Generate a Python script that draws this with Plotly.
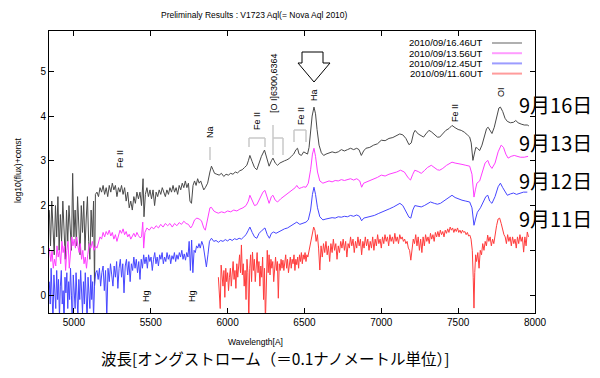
import plotly.graph_objects as go

# ---------------- data (wavelength [A], log10(flux)+const) ----------------
spec_16 = [(4840,1.9),(4848,1.1),(4856,2.1),(4864,1.4),(4872,0.9),(4880,2.0),(4888,1.3),(4896,2.2),
(4904,1.0),(4912,1.8),(4920,1.2),(4928,2.1),(4936,1.5),(4944,0.8),(4952,1.9),(4960,1.2),(4968,2.0),
(4976,1.4),(4984,1.0),(4992,2.72),(5000,1.3),(5008,1.9),(5016,1.1),(5024,2.2),(5032,1.5),(5040,0.9),
(5048,2.0),(5056,1.4),(5064,2.1),(5072,1.0),(5080,1.7),(5088,2.2),(5096,1.2),(5104,0.8),(5112,1.9),
(5120,1.3),(5128,2.1),(5134,0.2),(5140,2.25),(5150,2.3),(5160,2.2),(5170,2.4),(5180,2.3),(5190,2.45),
(5200,2.25),(5210,2.4),(5220,2.2),(5230,2.45),(5240,2.3),(5250,2.5),(5260,2.35),(5270,2.45),(5280,2.2),
(5290,2.4),(5300,2.3),(5310,2.45),(5320,2.25),(5330,2.4),(5340,2.1),(5350,2.3),(5360,1.95),(5370,2.1),
(5380,1.9),(5390,2.2),(5400,2.05),(5410,2.3),(5420,2.15),(5430,2.3),(5440,2.0),(5450,2.6),(5456,1.75),
(5465,2.25),(5475,2.4),(5485,2.2),(5495,2.35),(5505,2.15),(5515,2.35),(5525,2.0),(5535,2.3),(5545,2.2),
(5555,2.35),(5565,2.25),(5575,2.4),(5585,2.3),(5595,2.2),(5605,2.35),(5615,2.25),(5625,2.4),(5635,2.3),
(5645,2.45),(5655,2.3),(5665,2.4),(5675,2.25),(5685,2.45),(5695,2.35),(5705,2.5),(5715,2.4),(5725,2.55),
(5735,2.4),(5745,2.5),(5755,2.1),(5765,2.05),(5775,2.45),(5785,2.55),(5795,2.45),(5805,2.6),(5815,2.5),
(5825,2.55),(5835,2.45),(5845,2.35),(5855,2.4),(5870,2.5),(5885,2.75),(5895,2.88),(5905,2.8),(5915,2.72),
(5930,2.7),(5945,2.68),(5960,2.72),(5975,2.65),(5990,2.7),(6005,2.68),(6020,2.72),(6035,2.7),(6050,2.75),
(6065,2.73),(6080,2.78),(6095,2.8),(6110,2.85),(6125,2.9),(6135,3.0),(6145,3.12),(6160,2.98),(6175,2.85),
(6190,2.8),(6205,2.95),(6220,3.1),(6240,3.24),(6255,3.05),(6270,2.88),(6285,3.0),(6295,3.06),(6310,2.95),
(6325,2.9),(6340,2.95),(6355,2.98),(6370,3.0),(6385,3.02),(6400,3.05),(6415,3.1),(6430,3.15),(6445,3.25),
(6455,3.28),(6465,3.15),(6480,3.12),(6495,3.2),(6510,3.18),(6520,3.15),(6530,3.3),(6540,3.6),(6550,4.0),
(6562,4.2),(6572,4.05),(6582,3.7),(6595,3.35),(6610,3.18),(6625,3.12),(6640,3.15),(6660,3.18),(6680,3.2),
(6700,3.18),(6720,3.2),(6740,3.25),(6760,3.22),(6780,3.25),(6800,3.28),(6820,3.25),(6840,3.28),(6855,3.25),
(6870,3.12),(6885,3.22),(6900,3.28),(6925,3.3),(6950,3.35),(6975,3.38),(7000,3.46),(7025,3.45),(7050,3.5),
(7075,3.52),(7100,3.56),(7120,3.6),(7140,3.58),(7160,3.5),(7180,3.36),(7195,3.4),(7210,3.62),(7220,3.68),
(7240,3.6),(7260,3.55),(7275,3.53),(7290,3.6),(7310,3.68),(7325,3.65),(7345,3.58),(7365,3.53),(7380,3.53),
(7400,3.6),(7420,3.68),(7440,3.72),(7460,3.79),(7480,3.74),(7500,3.7),(7520,3.68),(7540,3.64),(7560,3.58),
(7575,3.53),(7585,3.4),(7596,3.01),(7605,3.15),(7615,3.3),(7625,3.28),(7640,3.23),(7655,3.35),(7670,3.55),
(7685,3.72),(7695,3.75),(7710,3.65),(7720,3.61),(7735,3.75),(7750,4.0),(7765,4.18),(7775,4.2),(7790,4.1),
(7805,3.95),(7820,3.88),(7840,3.85),(7860,3.86),(7875,3.9),(7890,3.85),(7910,3.82),(7930,3.8),(7950,3.8),
(7960,3.78)]

spec_13 = [(4840,1.05),(4850,0.75),(4858,1.0),(4866,0.6),(4874,0.8),(4882,0.65),(4890,1.1),(4898,0.85),
(4906,1.0),(4914,0.7),(4922,1.2),(4930,0.95),(4938,1.1),(4946,0.55),(4954,1.0),(4962,1.2),(4970,0.6),
(4978,1.05),(4986,1.3),(4994,1.1),(5002,1.25),(5010,1.05),(5018,1.3),(5026,1.1),(5034,0.95),(5042,1.15),
(5050,0.8),(5058,1.0),(5066,0.7),(5074,0.85),(5082,0.6),(5090,0.9),(5100,1.15),(5110,1.05),(5120,1.2),
(5130,1.0),(5140,1.1),(5150,1.05),(5160,1.15),(5170,1.3),(5180,1.25),(5190,1.4),(5200,1.3),(5210,1.42),
(5220,1.35),(5230,1.45),(5240,1.32),(5250,1.4),(5260,1.25),(5270,1.35),(5280,1.2),(5290,1.3),(5300,1.45),
(5310,1.38),(5320,1.48),(5330,1.35),(5340,1.42),(5350,1.3),(5360,1.36),(5370,1.25),(5380,1.32),(5390,1.38),
(5400,1.3),(5410,1.4),(5420,1.33),(5430,1.28),(5440,1.3),(5448,1.63),(5454,1.05),(5462,1.4),(5475,1.5),
(5490,1.45),(5505,1.52),(5520,1.48),(5535,1.55),(5550,1.5),(5565,1.58),(5580,1.52),(5595,1.6),(5610,1.55),
(5625,1.6),(5640,1.52),(5655,1.6),(5670,1.55),(5685,1.62),(5700,1.58),(5715,1.65),(5730,1.6),(5745,1.58),
(5760,1.5),(5770,1.55),(5785,1.68),(5800,1.72),(5815,1.7),(5830,1.66),(5845,1.5),(5855,1.45),(5870,1.7),
(5885,1.95),(5895,1.96),(5910,1.88),(5925,1.85),(5940,1.83),(5960,1.86),(5980,1.84),(6000,1.88),(6020,1.86),
(6040,1.9),(6060,1.88),(6080,1.92),(6100,1.95),(6120,2.0),(6135,2.1),(6145,2.23),(6160,2.1),(6175,2.0),
(6190,2.02),(6210,2.15),(6230,2.3),(6243,2.34),(6258,2.15),(6270,2.05),(6285,2.2),(6295,2.23),(6310,2.12),
(6325,2.08),(6345,2.15),(6365,2.2),(6385,2.25),(6405,2.3),(6425,2.35),(6440,2.4),(6450,2.45),(6465,2.38),
(6480,2.4),(6495,2.42),(6510,2.41),(6525,2.5),(6540,2.8),(6552,3.15),(6562,3.28),(6572,3.1),(6585,2.75),
(6600,2.55),(6620,2.5),(6640,2.52),(6660,2.55),(6680,2.53),(6700,2.56),(6720,2.55),(6740,2.58),(6760,2.56),
(6780,2.58),(6800,2.6),(6820,2.57),(6840,2.6),(6860,2.55),(6872,2.41),(6885,2.5),(6900,2.52),(6925,2.55),
(6950,2.6),(6975,2.63),(7000,2.68),(7025,2.66),(7050,2.7),(7075,2.72),(7100,2.75),(7125,2.79),(7150,2.75),
(7175,2.62),(7190,2.57),(7205,2.7),(7218,2.79),(7240,2.76),(7260,2.72),(7280,2.78),(7300,2.85),(7325,2.9),
(7345,2.85),(7365,2.8),(7380,2.79),(7400,2.83),(7425,2.9),(7445,2.95),(7460,2.97),(7480,2.95),(7500,2.93),
(7525,2.92),(7550,2.9),(7575,2.88),(7590,2.7),(7603,2.19),(7612,2.35),(7622,2.5),(7640,2.55),(7660,2.75),
(7675,2.95),(7693,3.01),(7705,2.9),(7720,2.83),(7740,2.95),(7760,3.2),(7780,3.35),(7795,3.3),(7810,3.15),
(7825,3.06),(7845,3.1),(7865,3.12),(7885,3.1),(7905,3.08),(7930,3.08),(7955,3.1)]

spec_12 = [(4840,0.3),(4846,-0.2),(4852,0.6),(4858,0.0),(4864,-0.6),(4870,0.45),(4876,0.1),(4882,-0.3),
(4888,0.55),(4894,-0.1),(4900,0.35),(4906,-0.5),(4912,0.2),(4918,0.55),(4924,-0.2),(4930,0.1),(4936,-0.7),
(4942,0.4),(4948,0.05),(4954,0.5),(4960,-0.3),(4966,0.3),(4972,-0.1),(4978,0.6),(4984,0.0),(4990,-0.8),
(4996,0.45),(5002,0.15),(5008,-0.3),(5014,0.5),(5020,0.05),(5026,-0.5),(5032,0.35),(5038,-0.1),(5044,0.55),
(5050,0.1),(5056,-0.4),(5062,0.3),(5068,-0.2),(5074,0.5),(5080,0.0),(5086,-0.6),(5092,0.4),(5098,0.1),
(5104,-0.3),(5110,0.45),(5116,-0.1),(5122,0.3),(5128,-0.5),(5134,0.2),(5142,0.5),(5150,0.55),(5158,0.35),
(5166,0.6),(5174,0.2),(5182,0.5),(5190,0.65),(5198,0.1),(5206,0.55),(5214,-0.5),(5222,0.6),(5230,0.3),
(5238,0.7),(5246,0.45),(5254,0.2),(5262,0.65),(5270,0.4),(5278,0.75),(5286,0.15),(5294,0.6),(5302,0.8),
(5310,0.4),(5318,0.7),(5326,0.05),(5334,0.65),(5342,0.8),(5350,0.45),(5358,0.75),(5366,0.3),(5374,0.7),
(5382,0.55),(5390,0.85),(5398,0.6),(5406,0.8),(5414,0.5),(5422,0.75),(5430,0.35),(5438,0.8),(5446,0.6),
(5454,0.9),(5462,0.7),(5470,0.85),(5478,0.6),(5486,0.9),(5494,0.75),(5502,0.85),(5510,0.55),(5518,0.8),
(5526,0.95),(5534,0.7),(5542,0.85),(5550,0.65),(5558,0.9),(5566,0.8),(5574,0.95),(5582,0.7),(5590,0.85),
(5598,0.75),(5606,0.95),(5614,0.8),(5622,0.9),(5630,0.7),(5638,0.88),(5646,0.8),(5654,0.95),(5662,0.75),
(5670,0.9),(5678,0.8),(5686,0.95),(5694,0.85),(5702,1.0),(5710,0.8),(5718,0.92),(5726,0.78),(5734,0.95),
(5742,0.85),(5750,1.2),(5758,0.55),(5766,1.23),(5774,0.5),(5782,1.0),(5790,0.95),(5798,1.1),(5806,1.05),
(5814,1.15),(5822,1.05),(5832,1.2),(5842,1.1),(5852,0.9),(5862,0.63),(5872,0.9),(5882,1.2),(5895,1.27),
(5910,1.2),(5925,1.22),(5940,1.18),(5955,1.22),(5970,1.2),(5985,1.24),(6000,1.21),(6015,1.25),(6030,1.22),
(6045,1.26),(6060,1.24),(6075,1.27),(6090,1.25),(6105,1.3),(6120,1.35),(6135,1.45),(6145,1.52),(6160,1.4),
(6175,1.3),(6190,1.27),(6205,1.38),(6225,1.45),(6243,1.5),(6258,1.35),(6272,1.27),(6285,1.38),(6300,1.41),
(6315,1.38),(6330,1.41),(6350,1.45),(6370,1.48),(6390,1.5),(6410,1.55),(6430,1.58),(6450,1.63),(6470,1.58),
(6490,1.6),(6510,1.63),(6525,1.68),(6540,1.9),(6552,2.25),(6562,2.41),(6572,2.25),(6585,1.95),(6600,1.75),
(6620,1.68),(6640,1.7),(6660,1.72),(6680,1.73),(6700,1.72),(6720,1.75),(6740,1.74),(6760,1.76),(6780,1.75),
(6800,1.78),(6820,1.76),(6840,1.79),(6858,1.76),(6872,1.66),(6886,1.72),(6905,1.74),(6930,1.75),(6955,1.78),
(6980,1.82),(7004,1.85),(7030,1.9),(7055,1.93),(7080,1.97),(7105,2.02),(7121,2.05),(7140,2.0),(7160,1.88),
(7180,1.74),(7192,1.72),(7205,1.9),(7218,2.0),(7240,1.98),(7260,1.97),(7280,2.0),(7300,2.05),(7320,2.08),
(7345,2.05),(7365,2.03),(7385,2.05),(7405,2.1),(7425,2.15),(7445,2.2),(7460,2.23),(7480,2.18),(7500,2.15),
(7525,2.12),(7550,2.1),(7575,2.08),(7590,1.95),(7603,1.56),(7613,1.7),(7625,1.85),(7645,1.95),(7665,2.1),
(7680,2.2),(7693,2.23),(7705,2.1),(7720,2.05),(7740,2.2),(7760,2.42),(7775,2.5),(7790,2.4),(7805,2.3),
(7820,2.23),(7840,2.26),(7860,2.28),(7880,2.25),(7900,2.28),(7925,2.3),(7950,2.3)]

spec_11 = [(5940,0.4),(5946,0.15),(5952,-0.3),(5958,0.67),(5964,0.45),(5970,0.2),(5976,0.55),(5982,-0.05),
(5988,0.6),(5994,0.3),(6000,0.5),(6006,0.1),(6012,0.4),(6018,0.6),(6024,0.2),(6030,0.45),(6036,0.75),
(6042,0.35),(6048,0.55),(6054,0.15),(6060,0.7),(6066,0.4),(6072,0.6),(6078,0.9),(6084,0.5),(6090,1.12),
(6096,0.45),(6102,0.7),(6108,0.2),(6114,0.55),(6120,-0.1),(6126,0.8),(6132,0.5),(6138,-0.6),(6144,0.6),
(6150,0.9),(6156,0.3),(6162,0.96),(6168,0.55),(6174,0.8),(6180,0.3),(6186,0.7),(6192,0.95),(6198,0.5),
(6204,0.75),(6210,0.2),(6216,0.65),(6222,0.4),(6228,0.85),(6234,-0.1),(6240,0.6),(6246,-0.6),(6252,0.75),
(6258,1.0),(6264,0.5),(6270,0.9),(6276,0.45),(6282,0.8),(6288,0.6),(6294,0.75),(6300,0.3),(6306,0.6),
(6312,0.85),(6318,0.55),(6324,0.75),(6330,-0.07),(6336,0.7),(6342,0.55),(6348,0.8),(6354,0.6),(6360,0.78),
(6366,0.55),(6372,0.7),(6378,0.9),(6384,0.6),(6390,0.8),(6396,0.5),(6402,0.75),(6408,0.85),(6414,0.6),
(6420,0.8),(6426,0.7),(6432,0.9),(6438,0.55),(6444,0.8),(6450,0.68),(6456,0.85),(6462,0.6),(6468,0.9),
(6474,0.75),(6480,0.95),(6486,0.7),(6492,0.9),(6498,0.8),(6504,0.95),(6510,0.75),(6516,0.9),(6522,0.85),
(6530,1.0),(6540,1.2),(6550,1.4),(6560,1.52),(6568,1.45),(6576,1.2),(6584,1.35),(6592,1.05),(6600,0.56),
(6608,1.1),(6616,0.85),(6624,1.15),(6632,0.95),(6640,1.2),(6648,0.9),(6656,1.1),(6664,0.75),(6672,1.15),
(6680,0.95),(6688,1.25),(6696,1.0),(6704,1.15),(6712,0.8),(6720,1.1),(6728,0.95),(6736,1.2),(6744,1.05),
(6752,1.25),(6760,1.0),(6768,1.2),(6776,0.85),(6784,1.15),(6792,1.05),(6800,1.3),(6808,1.1),(6816,1.25),
(6824,0.95),(6832,1.2),(6840,1.05),(6848,1.3),(6856,1.1),(6864,1.25),(6872,0.9),(6880,1.2),(6888,1.05),
(6896,1.3),(6904,1.1),(6912,1.25),(6920,1.0),(6928,1.2),(6936,1.05),(6944,1.3),(6952,1.0),(6960,1.25),
(6968,1.1),(6976,1.35),(6984,1.15),(6992,1.25),(7000,1.05),(7008,1.3),(7016,1.15),(7024,1.35),(7032,1.2),
(7040,1.3),(7048,1.1),(7056,1.35),(7064,1.2),(7072,1.3),(7080,1.15),(7088,1.38),(7096,1.2),(7104,1.3),
(7112,1.15),(7120,1.35),(7128,1.25),(7136,1.3),(7144,1.2),(7152,1.25),(7160,1.15),(7168,1.2),(7176,1.05),
(7184,1.0),(7192,0.78),(7200,1.05),(7208,1.25),(7216,1.15),(7224,1.35),(7232,1.1),(7240,1.3),(7248,1.0),
(7256,1.25),(7264,0.95),(7272,1.3),(7280,1.1),(7288,1.35),(7296,1.2),(7304,1.3),(7312,1.15),(7320,1.38),
(7328,1.25),(7336,1.35),(7344,1.2),(7352,1.4),(7360,1.3),(7368,1.42),(7376,1.3),(7384,1.45),(7392,1.35),
(7400,1.42),(7408,1.3),(7416,1.45),(7424,1.38),(7432,1.48),(7440,1.4),(7448,1.52),(7456,1.45),(7464,1.5),
(7472,1.4),(7480,1.48),(7488,1.42),(7496,1.5),(7504,1.4),(7512,1.45),(7520,1.38),(7528,1.45),(7536,1.4),
(7544,1.42),(7552,1.35),(7560,1.4),(7568,1.32),(7576,1.34),(7584,1.25),(7592,1.0),(7598,0.4),(7603,-0.29),
(7608,0.5),(7614,0.9),(7620,0.75),(7628,0.95),(7636,0.6),(7644,1.0),(7652,0.9),(7660,1.15),(7668,1.0),
(7676,1.2),(7684,1.1),(7692,1.34),(7700,1.2),(7708,1.3),(7716,1.1),(7724,1.25),(7732,1.15),(7740,1.35),
(7750,1.55),(7760,1.7),(7770,1.72),(7780,1.6),(7790,1.45),(7798,1.35),(7806,1.3),(7814,1.15),(7822,1.35),
(7830,1.2),(7838,1.3),(7846,1.1),(7854,1.3),(7862,1.15),(7870,1.25),(7878,1.05),(7886,1.3),(7894,1.15),
(7902,1.35),(7910,1.2),(7918,1.3),(7926,0.96),(7934,1.3),(7942,1.1),(7950,1.41),(7958,1.3)]

series_names = ["2010/09/16.46UT", "2010/09/13.56UT", "2010/09/12.45UT", "2010/09/11.60UT"]
series_data = [spec_16, spec_13, spec_12, spec_11]
day_labels = ["9月16日", "9月13日", "9月12日", "9月11日"]
x_ticks = [5000, 5500, 6000, 6500, 7000, 7500, 8000]
y_ticks = [0, 1, 2, 3, 4, 5]

# ---------------- styling ----------------
line_colors = ["#4a4a4a", "#ff3cff", "#4646ff", "#ff3c3c"]
legend_colors = ["#b0b0b0", "#ff9cff", "#9c9cff", "#ff9c9c"]
FONT = "Liberation Sans, Arial, sans-serif"
CJK = "Noto Sans CJK JP, sans-serif"

# plot area in pixels
L, R, T, B = 49, 535, 31, 313
W, H = R - L, B - T


def P(x, y):
    return (x - L) / W, (B - y) / H


fig = go.Figure()
for name, spec, col in zip(series_names, series_data, line_colors):
    fig.add_trace(go.Scatter(
        x=[p[0] for p in spec], y=[p[1] for p in spec], mode="lines", name=name,
        line=dict(color=col, width=1), showlegend=False))

ann = []
shapes = []


def text(x, y, s, size=9, angle=0, xanchor="center", font=FONT):
    px, py = P(x, y)
    ann.append(dict(x=px, y=py, xref="paper", yref="paper", text=s, showarrow=False,
                    textangle=angle, xanchor=xanchor, yanchor="middle",
                    font=dict(family=font, size=size, color="black")))


def seg(x0, y0, x1, y1, color="#c8c8c8", width=1.5):
    a, b = P(x0, y0)
    c, d = P(x1, y1)
    shapes.append(dict(type="line", xref="paper", yref="paper", x0=a, y0=b, x1=c, y1=d,
                       line=dict(color=color, width=width)))


# title
text(254, 15, "Preliminaly Results : V1723 Aql(= Nova Aql 2010)", size=8.5)
# legend (custom, text right aligned, sample on the right)
for i, (name, lc) in enumerate(zip(series_names, legend_colors)):
    yy = 43 + 10.2 * i
    text(485, yy, name, size=9.5, xanchor="right")
    seg(492, yy, 522, yy, color=lc, width=2)

# day labels on the right
for lab, yy in zip(day_labels, [104, 142, 180, 218]):
    text(517, yy, lab, size=20, xanchor="left", font=CJK)

# line identifications
text(120, 159, "Fe II", angle=-90)
text(210, 132, "Na", angle=-90)
seg(210, 147, 210, 160)
text(257, 121, "Fe II", angle=-90)
seg(249, 138, 265, 138); seg(249, 138, 249, 147); seg(265, 138, 265, 147)
text(274, 83, "[O I]6300,6364", angle=-90)
seg(273, 125, 273, 155); seg(273, 138, 283, 138); seg(283, 138, 283, 155)
text(301, 116, "Fe II", angle=-90)
seg(294, 130, 306, 130); seg(294, 130, 294, 142); seg(306, 130, 306, 142)
text(314, 95, "Ha", angle=-90)
text(455, 113, "Fe II", angle=-90)
text(501, 92, "OI", angle=-90)
text(146, 296, "Hg", angle=-90)
text(192, 296, "Hg", angle=-90)

# big outlined arrow pointing at H-alpha
pts = [(302, 52), (323, 52), (323, 63), (330, 63), (314, 82), (298, 63), (302, 63)]
path = "M " + " L ".join("%.4f,%.4f" % P(x, y) for x, y in pts) + " Z"
shapes.append(dict(type="path", xref="paper", yref="paper", path=path,
                   fillcolor="white", line=dict(color="black", width=1)))

# axis titles
text(255, 342, "Wavelength[A]", size=8.5)
text(18, 170, "log10(flux)+const", size=8.5, angle=-90)
text(275, 358, "波長[オングストローム（＝0.1ナノメートル単位）]", size=15.5, font=CJK)

axis_common = dict(showline=True, linecolor="black", linewidth=1, mirror="ticks",
                   ticks="inside", ticklen=5, tickcolor="black", showgrid=False,
                   zeroline=False, tickfont=dict(family=FONT, size=10, color="black"))
fig.update_xaxes(range=[4838, 8000], tickvals=x_ticks, **axis_common)
fig.update_yaxes(range=[-0.4, 5.9], tickvals=y_ticks, **axis_common)

fig.update_layout(width=600, height=378, margin=dict(l=L, r=600 - R, t=T, b=378 - B),
                  plot_bgcolor="white", paper_bgcolor="white",
                  annotations=ann, shapes=shapes)

fig.write_html("out.html", config={"displayModeBar": False},
               post_script="document.body.style.margin='0';")
